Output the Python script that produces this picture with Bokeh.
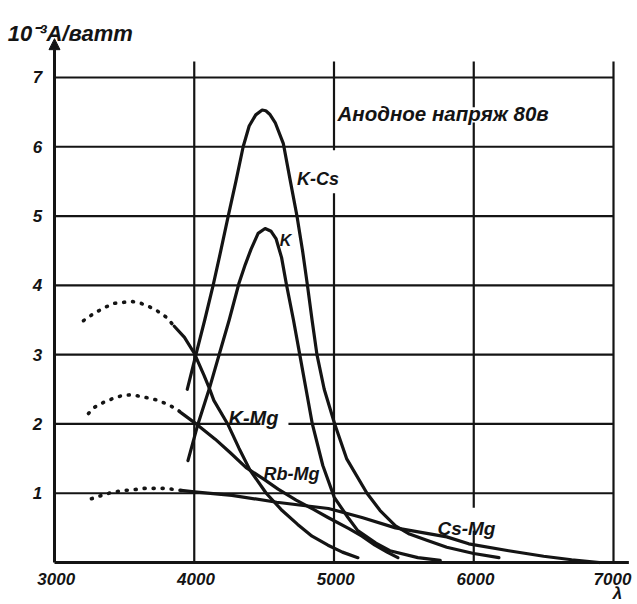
from bokeh.plotting import figure
from bokeh.models import Range1d, Arrow, NormalHead
from bokeh.core.properties import value
from bokeh.embed import file_html
from bokeh.resources import INLINE

# ---------------- data ----------------
x_ticks = [3000, 4000, 5000, 6000, 7000]
y_ticks = [1, 2, 3, 4, 5, 6, 7]

# K-Cs
kcs_x = [3950, 4012, 4075, 4135, 4190, 4243, 4298, 4350, 4393, 4440, 4486, 4512,
         4540, 4579, 4637, 4688, 4735, 4775, 4810, 4843, 4878, 4930, 5005, 5090,
         5236, 5330, 5440, 5540, 5664, 5807, 6000, 6180]
kcs_y = [2.5, 3.0, 3.5, 4.0, 4.5, 5.0, 5.5, 6.0, 6.3, 6.46, 6.53, 6.52,
         6.47, 6.35, 6.05, 5.5, 5.0, 4.5, 4.0, 3.5, 3.0, 2.5, 2.0, 1.5,
         1.0, 0.75, 0.53, 0.41, 0.32, 0.22, 0.13, 0.07]

# K
k_x = [3955, 4024, 4108, 4181, 4250, 4320, 4365, 4406, 4457, 4507, 4550, 4586,
       4625, 4658, 4710, 4755, 4800, 4845, 4920, 5002, 5100, 5170, 5300, 5400,
       5600, 5760]
k_y = [1.47, 1.98, 2.51, 3.02, 3.5, 4.03, 4.3, 4.52, 4.75, 4.82, 4.78, 4.67,
       4.4, 4.03, 3.5, 3.0, 2.5, 2.0, 1.4, 0.94, 0.65, 0.46, 0.28, 0.17,
       0.07, 0.03]

# K-Mg (dotted part, then solid part)
kmg_dot_x = [3207, 3279, 3350, 3421, 3479, 3543, 3607, 3671, 3729, 3800, 3857]
kmg_dot_y = [3.49, 3.59, 3.67, 3.74, 3.75, 3.77, 3.75, 3.70, 3.64, 3.54, 3.41]
kmg_x = [3857, 3930, 4000, 4070, 4109, 4140, 4239, 4320, 4400, 4515, 4629,
         4740, 4843, 4957, 5060, 5171]
kmg_y = [3.41, 3.25, 3.02, 2.7, 2.51, 2.34, 2.0, 1.65, 1.33, 1.0, 0.75,
         0.55, 0.38, 0.25, 0.15, 0.07]

# Rb-Mg
rbmg_dot_x = [3243, 3286, 3350, 3421, 3486, 3543, 3614, 3679, 3743, 3800, 3871, 3907]
rbmg_dot_y = [2.15, 2.24, 2.31, 2.37, 2.41, 2.42, 2.40, 2.37, 2.34, 2.29, 2.22, 2.16]
rbmg_x = [3907, 4021, 4150, 4260, 4371, 4500, 4600, 4729, 4850, 4957, 5107,
          5200, 5293, 5380, 5457]
rbmg_y = [2.16, 1.99, 1.78, 1.58, 1.37, 1.2, 1.06, 0.9, 0.77, 0.65, 0.49,
          0.38, 0.25, 0.15, 0.07]

# Cs-Mg
csmg_dot_x = [3264, 3340, 3407, 3493, 3564, 3643, 3729, 3800, 3871, 3907]
csmg_dot_y = [0.92, 0.97, 1.01, 1.04, 1.05, 1.07, 1.07, 1.07, 1.05, 1.04]
csmg_x = [3907, 4000, 4270, 4590, 4960, 5200, 5440, 5807, 5964, 6250, 6500, 6700, 6900]
csmg_y = [1.04, 1.02, 0.97, 0.87, 0.78, 0.65, 0.5, 0.37, 0.27, 0.17, 0.09, 0.04, 0.0]

y_title = "10⁻³A/ватт"
note = "Анодное напряж 80в"
x_title = "λ"

# ---------------- figure ----------------
INK = "#141414"
FONT = value("Liberation Sans")

p = figure(width=633, height=602,
           x_range=Range1d(2613.6, 7143.1), y_range=Range1d(-0.577, 8.111),
           x_axis_type=None, y_axis_type=None,
           output_backend="svg", toolbar_location=None,
           min_border=0, min_border_left=0, min_border_right=0,
           min_border_top=0, min_border_bottom=0)
p.outline_line_color = None
p.background_fill_color = "white"
p.border_fill_color = "white"

# grid: vertical lines (with gaps where labels sit)
v_top = 7.23
v_gaps = {5000: [(5.33, 5.95)], 6000: [(0.46, 0.79), (6.35, 6.57)]}
vx0, vy0, vx1, vy1 = [], [], [], []
for xt in x_ticks[1:]:
    start = 0.0
    for g0, g1 in sorted(v_gaps.get(xt, [])):
        vx0.append(xt); vy0.append(start); vx1.append(xt); vy1.append(g0)
        start = g1
    vx0.append(xt); vy0.append(start); vx1.append(xt); vy1.append(v_top)
p.segment(vx0, vy0, vx1, vy1, line_color=INK, line_width=2.2)

# horizontal lines
h_gaps = {2: [(4474, 4674)]}
hx0, hy0, hx1, hy1 = [], [], [], []
for yt in y_ticks:
    start = x_ticks[0]
    for g0, g1 in h_gaps.get(yt, []):
        hx0.append(start); hy0.append(yt); hx1.append(g0); hy1.append(yt)
        start = g1
    hx0.append(start); hy0.append(yt); hx1.append(x_ticks[-1]); hy1.append(yt)
p.segment(hx0, hy0, hx1, hy1, line_color=INK, line_width=2.2)

# axes
p.segment([x_ticks[0]], [0], [7110], [0], line_color=INK, line_width=3)
p.add_layout(Arrow(end=NormalHead(size=11, fill_color=INK, line_color=INK),
                   x_start=x_ticks[0], y_start=0, x_end=x_ticks[0], y_end=7.56,
                   line_color=INK, line_width=3))

# curves
solid = dict(line_color=INK, line_width=3.2, line_join="round", line_cap="round")
dots = dict(line_color=INK, line_width=3.6, line_dash="1 8", line_cap="round")
p.line(kcs_x, kcs_y, **solid)
p.line(k_x, k_y, **solid)
p.line(kmg_x, kmg_y, **solid)
p.line(kmg_dot_x, kmg_dot_y, **dots)
p.line(rbmg_x, rbmg_y, **solid)
p.line(rbmg_dot_x, rbmg_dot_y, **dots)
p.line(csmg_x, csmg_y, **solid)
p.line(csmg_dot_x, csmg_dot_y, **dots)

# tick labels
tick_style = dict(text_font=FONT, text_font_style="bold italic", text_font_size="17px",
                  text_color=INK, text_align="center", text_baseline="middle")
p.text(x=[min(v + 12, 6993) for v in x_ticks], y=[-0.231] * len(x_ticks),
       text=[str(v) for v in x_ticks], **tick_style)
p.text(x=[2878] * len(y_ticks), y=y_ticks, text=[str(v) for v in y_ticks], **tick_style)

# titles and curve labels
lab = dict(text_font=FONT, text_font_style="bold italic", text_color=INK,
           text_align="left", text_baseline="alphabetic")
p.text(x=[2665], y=[7.64], text=[y_title], text_font_size="22px", **lab)
p.text(x=[5025], y=[6.48], text=[note], text_font_size="20.5px", **lab)
p.text(x=[4735], y=[5.54], text=["K-Cs"], text_font_size="18px", **lab)
p.text(x=[4612], y=[4.65], text=["K"], text_font_size="16px", **lab)
p.text(x=[4245], y=[2.08], text=["K-Mg"], text_font_size="20px", **lab)
p.text(x=[4495], y=[1.28], text=["Rb-Mg"], text_font_size="18px", **lab)
p.text(x=[5740], y=[0.49], text=["Cs-Mg"], text_font_size="19px", **lab)
p.text(x=[7028], y=[-0.44], text=[x_title], text_font_size="17px",
       text_font=FONT, text_font_style="bold italic", text_color=INK,
       text_align="center", text_baseline="middle")

open("out.html", "w").write(file_html(p, INLINE))
